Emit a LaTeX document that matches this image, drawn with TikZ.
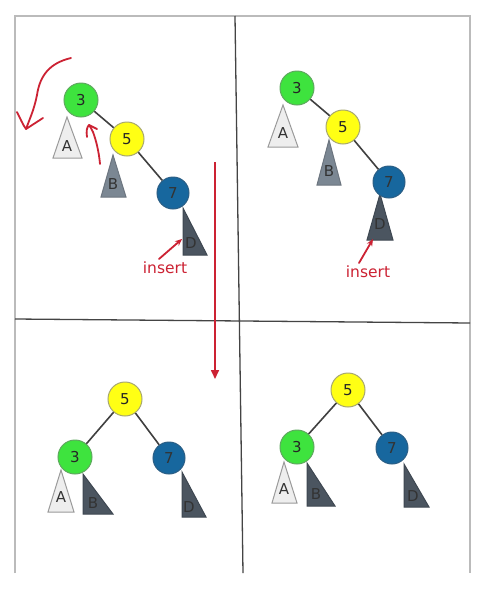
\documentclass[tikz,border=0pt]{standalone}
\usepackage{fontspec}
\setmainfont{DejaVu Sans}
\usetikzlibrary{arrows.meta}
\definecolor{gnode}{HTML}{3EE33E}
\definecolor{gline}{HTML}{5FA85F}
\definecolor{ynode}{HTML}{FFFF14}
\definecolor{yline}{HTML}{A8A870}
\definecolor{bnode}{HTML}{17679E}
\definecolor{bline}{HTML}{2B5E85}
\definecolor{triA}{HTML}{EEEEEE}
\definecolor{triAl}{HTML}{9A9A9A}
\definecolor{triB}{HTML}{7B8793}
\definecolor{triBl}{HTML}{6C757F}
\definecolor{triD}{HTML}{4B5560}
\definecolor{triDl}{HTML}{3E4751}
\definecolor{redink}{HTML}{CC2233}
\definecolor{frame}{HTML}{BBBBBB}
\definecolor{divider}{HTML}{444444}
\tikzset{
  treenode/.style={circle, minimum size=34pt, inner sep=0pt, line width=1pt, text=black!85, font=\fontsize{15}{17}\selectfont},
  gnd/.style={treenode, fill=gnode, draw=gline},
  ynd/.style={treenode, fill=ynode, draw=yline},
  bnd/.style={treenode, fill=bnode, draw=bline, minimum size=32pt, text=black!80},
  edge/.style={draw=black!75, line width=1.6pt},
  subA/.style={fill=triA, draw=triAl, line width=1pt, line join=miter},
  subB/.style={fill=triB, draw=triBl, line width=1pt},
  subD/.style={fill=triD, draw=triDl, line width=1pt},
  sublabel/.style={font=\fontsize{15}{17}\selectfont, text=black!80, inner sep=0pt},
  redpen/.style={draw=redink, line width=1.8pt, line cap=round, line join=round},
  inserttext/.style={font=\fontsize{15.5}{17}\selectfont, text=redink, inner sep=0pt}
}
\begin{document}
\begin{tikzpicture}[x=1pt,y=-1pt]
\useasboundingbox (0,0) rectangle (480,600);
\fill[white] (0,0) rectangle (480,600);
% frame
\coordinate (fl1) at (15,573); \coordinate (fl2) at (15,16);
\coordinate (fr1) at (470,16); \coordinate (fr2) at (470,573);
\draw[frame, line width=1.3pt] (fl1) -- (fl2) -- (fr1) -- (fr2);
% dividers
\coordinate (vt) at (235,16); \coordinate (vb) at (243,573);
\coordinate (hl) at (15,319); \coordinate (hr) at (470,323);
\draw[divider, line width=1.3pt] (vt) -- (vb);
\draw[divider, line width=1.3pt] (hl) -- (hr);

% ===== top-left =====
\path[subA] (67,117) -- (53,158) -- (82,158) -- cycle;
\node[sublabel] (tlA) at (67,146) {A};
\path[subB] (113,155) -- (101,197) -- (126,197) -- cycle;
\node[sublabel] (tlB) at (113,184) {B};
\path[subD] (183,208) -- (183,255) -- (207,255) -- cycle;
\node[sublabel] (tlD) at (191,243) {D};
\node[gnd] (tl3) at (81,100) {3};
\node[ynd] (tl5) at (127,139) {5};
\node[bnd] (tl7) at (173,193) {7};
\draw[edge] (tl3) -- (tl5);
\draw[edge] (tl5) -- (tl7);
\node[inserttext] (tlins) at (165,268) {insert};
\coordinate (tlinsT) at (182,239);
\coordinate (tlinsS) at (159,259);
\draw[redpen, -{Stealth[length=7pt,width=6pt]}] (tlinsS) -- (tlinsT);
% hand-drawn rotation arrows
\coordinate (bigS) at (71,58);
\coordinate (bigT) at (26,129);
\coordinate (bigL) at (17,112);
\coordinate (bigR) at (43,118);
\draw[redpen] (bigS) .. controls (50,63) and (40,75) .. (37,95) .. controls (34,110) and (30,118) .. (bigT);
\draw[redpen] (bigL) .. controls (20,118) and (23,125) .. (bigT) -- (bigR);
\coordinate (smS) at (100,164);
\coordinate (smT) at (89,125);
\draw[redpen] (smS) .. controls (99,152) and (96,140) .. (93,132) .. controls (92,129) and (90,127) .. (smT);
\draw[redpen] (87,137) .. controls (86,131) and (87,127) .. (smT) -- (97,129);

% big down arrow
\coordinate (dS) at (215,162);
\coordinate (dT) at (215,379);
\draw[draw=redink, line width=1.6pt, -{Triangle[length=9pt,width=8pt]}] (dS) -- (dT);

% ===== top-right =====
\path[subA] (283,105) -- (268,147) -- (298,147) -- cycle;
\node[sublabel] (trA) at (283,133) {A};
\path[subB] (329,140) -- (317,185) -- (341,185) -- cycle;
\node[sublabel] (trB) at (329,171) {B};
\path[subD] (380,194) -- (367,240) -- (393,240) -- cycle;
\node[sublabel] (trD) at (380,224) {D};
\node[gnd] (tr3) at (297,88) {3};
\node[ynd] (tr5) at (343,127) {5};
\node[bnd] (tr7) at (389,182) {7};
\draw[edge] (tr3) -- (tr5);
\draw[edge] (tr5) -- (tr7);
\node[inserttext] (trins) at (368,272) {insert};
\coordinate (trinsT) at (373,239);
\coordinate (trinsS) at (359,263);
\draw[redpen, -{Stealth[length=7pt,width=6pt]}] (trinsS) -- (trinsT);

% ===== bottom-left =====
\path[subA] (61,470) -- (48,512) -- (74,512) -- cycle;
\node[sublabel] (blA) at (61,497) {A};
\path[subD] (83,474) -- (83,514) -- (113,514) -- cycle;
\node[sublabel] (blB) at (93,503) {B};
\path[subD] (182,472) -- (182,517) -- (206,517) -- cycle;
\node[sublabel] (blD) at (189,507) {D};
\node[ynd] (bl5) at (125,399) {5};
\node[gnd] (bl3) at (75,457) {3};
\node[bnd] (bl7) at (169,458) {7};
\draw[edge] (bl5) -- (bl3);
\draw[edge] (bl5) -- (bl7);

% ===== bottom-right =====
\path[subA] (284,462) -- (272,503) -- (297,503) -- cycle;
\node[sublabel] (brA) at (284,489) {A};
\path[subD] (307,463) -- (307,506) -- (335,506) -- cycle;
\node[sublabel] (brB) at (316,494) {B};
\path[subD] (404,464) -- (404,507) -- (429,507) -- cycle;
\node[sublabel] (brD) at (413,496) {D};
\node[ynd] (br5) at (348,390) {5};
\node[gnd] (br3) at (297,447) {3};
\node[bnd] (br7) at (392,448) {7};
\draw[edge] (br5) -- (br3);
\draw[edge] (br5) -- (br7);
\end{tikzpicture}
\end{document}
